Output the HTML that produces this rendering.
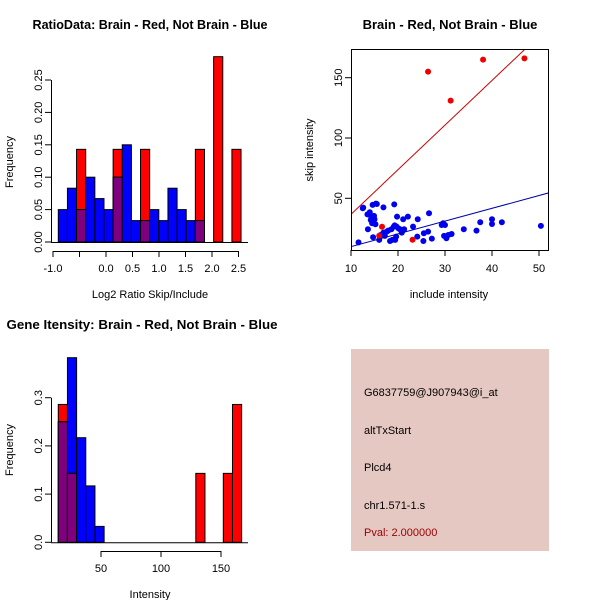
<!DOCTYPE html>
<html><head><meta charset="utf-8"><style>
html,body{margin:0;padding:0;background:#fff;}
svg{display:block;font-family:"Liberation Sans",sans-serif;}
</style></head><body>
<svg id="c" width="600" height="600" xmlns="http://www.w3.org/2000/svg"></svg>
<script>
// ---- Data: ratio histogram (top-left)
const ratioBinStart = -0.9;
const ratioBinWidth = 0.1724;
const ratioBlue = [0.05,0.083,0.05,0.1,0.067,0.05,0.1,0.15,0.033,0.033,0.05,0.033,0.083,0.05,0.033,0.033,0,0,0,0];
const ratioRed  = [0,0,0.143,0,0,0,0.143,0,0,0.143,0,0,0,0,0,0.143,0,0.286,0,0.143];
const ratioYTicks = [0,0.05,0.10,0.15,0.20,0.25];
const ratioYLabels = ["0.00","0.05","0.10","0.15","0.20","0.25"];
const ratioXTicks = [-1.0,-0.5,0.0,0.5,1.0,1.5,2.0,2.5];
const ratioXLabels = ["-1.0","","0.0","0.5","1.0","1.5","2.0","2.5"];
// ---- Data: scatter (top-right)
const blueX = [11.6,12.5,12.6,13.5,13.6,13.9,14.0,14.2,14.3,14.5,14.6,14.7,14.9,15.0,15.2,15.3,15.5,16.0,16.3,16.9,16.9,17.2,17.6,17.9,18.3,18.6,18.8,19.1,19.3,19.2,19.4,19.6,19.8,19.7,20.1,20.4,20.8,21.1,21.3,22.1,23.2,24.1,24.2,25.4,25.5,26.4,26.6,27.2,29.3,29.6,29.8,30.0,30.3,30.7,31.4,34.0,36.7,37.5,40.0,40.0,42.1,50.4];
const blueY = [13.5,41.7,42.3,36.7,24.3,36.7,38.4,32.0,34.8,29.3,44.5,17.7,35.4,32.6,28.5,45.6,45.3,15.5,19.6,42.5,21.5,18.8,22.4,23.2,14.6,24.3,15.5,26.5,27.6,45.0,15.5,18.2,34.8,26.5,25.1,24.3,21.5,32.6,24.3,34.8,26.5,18.2,32.6,14.6,21.0,22.4,37.6,16.6,27.9,29.3,18.8,27.9,16.9,19.6,20.4,24.3,23.2,30.1,32.6,28.7,30.1,27.1];
const redX = [26.4,38.1,46.9,31.2,16.6,16.0,23.1];
const redY = [155,165,166,131,26.4,18.9,15.6];
const redLine = [-0.3,3.7];   // intercept, slope
const blueLine = [-0.7,1.06];
const scXTicks = [10,20,30,40,50];
const scYTicks = [50,100,150];
// ---- Data: intensity histogram (bottom-left)
const intBinStart = 14.4;
const intBinWidth = 7.64;
const intBlue = [0.25,0.383,0.217,0.117,0.033,0,0,0,0,0,0,0,0,0,0,0,0,0,0,0];
const intRed  = [0.286,0.143,0,0,0,0,0,0,0,0,0,0,0,0,0,0.143,0,0,0.143,0.286];
const intYTicks = [0,0.1,0.2,0.3];
const intYLabels = ["0.0","0.1","0.2","0.3"];
const intXTicks = [50,100,150];
// ---- Info panel text
const infoLines = ["G6837759@J907943@i_at","altTxStart","Plcd4","chr1.571-1.s"];
const pvalText = "Pval: 2.000000";

const svg = document.getElementById('c');
const NS = "http://www.w3.org/2000/svg";
function mk(tag, attrs, parent){ const e=document.createElementNS(NS,tag); for(const k in attrs) e.setAttribute(k,attrs[k]); (parent||svg).appendChild(e); return e; }
function txt(s, attrs, parent){ const e=mk('text',attrs,parent); e.textContent=s; return e; }

// ---------- Top-left histogram
(function(){
  const g = mk('g',{});
  
  
  const sx = v => 53 + (v+1.0)*53;
  const sy = v => 242 - v*648;
  for(let i=0;i<ratioBlue.length;i++){
    const x0=sx(ratioBinStart+i*ratioBinWidth), x1=sx(ratioBinStart+(i+1)*ratioBinWidth);
    const r=ratioRed[i], b=ratioBlue[i], m=Math.min(r,b);
    if(r>0){ const e=mk('rect',{x:x0,y:sy(r),width:x1-x0,height:sy(0)-sy(r),fill:'#ff0000',stroke:'#000','stroke-width':1},g);   }
    if(b>0){ const e=mk('rect',{x:x0,y:sy(b),width:x1-x0,height:sy(0)-sy(b),fill:'#0000ff',stroke:'#000','stroke-width':1},g);   }
    if(m>0){ const e=mk('rect',{x:x0,y:sy(m),width:x1-x0,height:sy(0)-sy(m),fill:'#7f007f',stroke:'#000','stroke-width':1},g);   }
  }
  mk('line',{x1:51,y1:sy(0)+0.5,x2:248,y2:sy(0)+0.5,stroke:'#000'},g);
  mk('line',{x1:51.5,y1:sy(0),x2:51.5,y2:sy(0.25),stroke:'#000'},g);
  ratioYTicks.forEach((v,i)=>{
    mk('line',{x1:45,y1:sy(v),x2:51,y2:sy(v),stroke:'#000'},g);
    const t=txt(ratioYLabels[i],{x:0,y:0,'font-size':11,'text-anchor':'middle',transform:`translate(42,${sy(v)}) rotate(-90)`},g);
     
  });
  mk('line',{x1:sx(-1),y1:251.5,x2:sx(2.5),y2:251.5,stroke:'#000'},g);
  ratioXTicks.forEach((v,i)=>{
    mk('line',{x1:sx(v),y1:251,x2:sx(v),y2:257,stroke:'#000'},g);
    if(ratioXLabels[i]){ const t=txt(ratioXLabels[i],{x:sx(v),y:272,'font-size':11,'text-anchor':'middle'},g);
        }
  });
  const yl=txt('Frequency',{x:0,y:0,'font-size':11,'text-anchor':'middle',transform:'translate(13,162) rotate(-90)'},g);
   
  const xl=txt('Log2 Ratio Skip/Include',{x:150,y:298,'font-size':11,'text-anchor':'middle'},g);
   
  const tt=txt('RatioData: Brain - Red, Not Brain - Blue',{x:150,y:29,'font-size':13,'font-weight':'bold','text-anchor':'middle',textLength:235,lengthAdjust:'spacingAndGlyphs'},g);
   
})();

// ---------- Top-right scatter
(function(){
  const g = mk('g',{});
  
  
  const sx = v => 351 + (v-10)*4.7;
  const sy = v => 198.3 - (v-50)*1.206;
  mk('defs',{},g).innerHTML='<clipPath id="scClip"><rect x="351" y="49" width="197" height="201"/></clipPath>';
  const cg = mk('g',{'clip-path':'url(#scClip)'},g);
  blueX.forEach((x,i)=>{ const c=mk('circle',{cx:sx(x),cy:sy(blueY[i]),r:3,fill:'#0000ee'},cg);   });
  redX.forEach((x,i)=>{ const c=mk('circle',{cx:sx(x),cy:sy(redY[i]),r:3,fill:'#ee0000'},cg);   });
  const rl=mk('line',{x1:sx(8),y1:sy(redLine[0]+redLine[1]*8),x2:sx(55),y2:sy(redLine[0]+redLine[1]*55),stroke:'#cc0000','stroke-width':1},cg);
   
  const bl=mk('line',{x1:sx(8),y1:sy(blueLine[0]+blueLine[1]*8),x2:sx(55),y2:sy(blueLine[0]+blueLine[1]*55),stroke:'#0000aa','stroke-width':1},cg);
   
  mk('rect',{x:351.5,y:49.5,width:197,height:201,fill:'none',stroke:'#000'},g);
  scXTicks.forEach(v=>{ mk('line',{x1:sx(v),y1:250,x2:sx(v),y2:256,stroke:'#000'},g);
    const t=txt(String(v),{x:sx(v),y:272,'font-size':11,'text-anchor':'middle'},g);   });
  scYTicks.forEach(v=>{ mk('line',{x1:345,y1:sy(v),x2:351,y2:sy(v),stroke:'#000'},g);
    const t=txt(String(v),{x:0,y:0,'font-size':11,'text-anchor':'middle',transform:`translate(342,${sy(v)}) rotate(-90)`},g);   });
  const yl=txt('skip intensity',{x:0,y:0,'font-size':11,'text-anchor':'middle',transform:'translate(313,150) rotate(-90)'},g);
   
  const xl=txt('include intensity',{x:449,y:298,'font-size':11,'text-anchor':'middle'},g);
   
  const tt=txt('Brain - Red, Not Brain - Blue',{x:450,y:29,'font-size':13,'font-weight':'bold','text-anchor':'middle'},g);
   
})();

// ---------- Bottom-left histogram
(function(){
  const g = mk('g',{});
  
  
  const sx = v => 101 + (v-50)*1.2;
  const sy = v => 542.3 - v*482;
  for(let i=0;i<intBlue.length;i++){
    const x0=sx(intBinStart+i*intBinWidth), x1=sx(intBinStart+(i+1)*intBinWidth);
    const r=intRed[i], b=intBlue[i], m=Math.min(r,b);
    if(r>0){ const e=mk('rect',{x:x0,y:sy(r),width:x1-x0,height:sy(0)-sy(r),fill:'#ff0000',stroke:'#000','stroke-width':1},g);   }
    if(b>0){ const e=mk('rect',{x:x0,y:sy(b),width:x1-x0,height:sy(0)-sy(b),fill:'#0000ff',stroke:'#000','stroke-width':1},g);   }
    if(m>0){ const e=mk('rect',{x:x0,y:sy(m),width:x1-x0,height:sy(0)-sy(m),fill:'#7f007f',stroke:'#000','stroke-width':1},g);   }
  }
  mk('line',{x1:51,y1:sy(0)+0.5,x2:248,y2:sy(0)+0.5,stroke:'#000'},g);
  mk('line',{x1:51.5,y1:sy(0),x2:51.5,y2:sy(0.3),stroke:'#000'},g);
  intYTicks.forEach((v,i)=>{ mk('line',{x1:45,y1:sy(v),x2:51,y2:sy(v),stroke:'#000'},g);
    const t=txt(intYLabels[i],{x:0,y:0,'font-size':11,'text-anchor':'middle',transform:`translate(42,${sy(v)}) rotate(-90)`},g);   });
  mk('line',{x1:sx(50),y1:551.5,x2:sx(150),y2:551.5,stroke:'#000'},g);
  intXTicks.forEach(v=>{ mk('line',{x1:sx(v),y1:551,x2:sx(v),y2:557,stroke:'#000'},g);
    const t=txt(String(v),{x:sx(v),y:572,'font-size':11,'text-anchor':'middle'},g);   });
  const yl=txt('Frequency',{x:0,y:0,'font-size':11,'text-anchor':'middle',transform:'translate(13,450) rotate(-90)'},g);
   
  const xl=txt('Intensity',{x:150,y:598,'font-size':11,'text-anchor':'middle'},g);
   
  const tt=txt('Gene Itensity: Brain - Red, Not Brain - Blue',{x:142,y:329,'font-size':13,'font-weight':'bold','text-anchor':'middle',textLength:271,lengthAdjust:'spacingAndGlyphs'},g);
   
})();

// ---------- Info panel
(function(){
  const g = mk('g',{});
  
  
  mk('rect',{x:351,y:349,width:198,height:202,fill:'#e6c8c2'},g);
  const ys=[396,434,471,509];
  infoLines.forEach((s,i)=>{ const t=txt(s,{x:364,y:ys[i],'font-size':11,fill:'#000'},g);   });
  const p=txt(pvalText,{x:364,y:536,'font-size':11,fill:'#990000'},g);
   
})();
</script>
</body></html>
